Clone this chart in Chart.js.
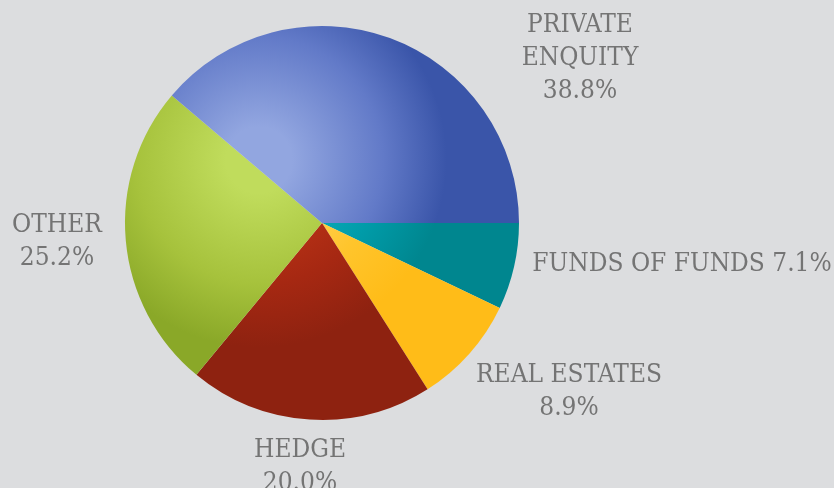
<!DOCTYPE html>
<html lang="en">

<head>
	<meta charset="UTF-8">
	<title>Portfolio split</title>
	<script src="https://cdn.jsdelivr.net/npm/chart.js"></script>
	<style>
	html, body { margin: 0; padding: 0; background: #dcdddf; }
	#wrap { width: 834px; height: 488px; position: relative; }
	</style>
</head>

<body>
	<div id="wrap">
		<canvas id="pieChart" width="834" height="488"></canvas>
	</div>
	<script>
	// data, clockwise from 3 o'clock
	const categories = ['FUNDS OF FUNDS', 'REAL ESTATES', 'HEDGE', 'OTHER', 'PRIVATE ENQUITY'];
	const shares = [7.1, 8.9, 20.0, 25.2, 38.8];
	// how each label is broken into lines
	const labelLines = [
		['FUNDS OF FUNDS 7.1%'],
		['REAL ESTATES', '8.9%'],
		['HEDGE', '20.0%'],
		['OTHER', '25.2%'],
		['PRIVATE', 'ENQUITY', '38.8%']
	];

	// light / mid / dark shade for each slice
	const shades = [
		['#14b6c6', '#009ca9', '#00868f'],
		['#ffd86c', '#ffc52c', '#ffbc18'],
		['#c43818', '#a62812', '#8e2210'],
		['#c0dc5c', '#a6c23c', '#8aa828'],
		['#92a6e0', '#627ac8', '#3a55a9']
	];

	// label anchors: centre x, first baseline y
	const labelAnchors = [
		[682, 271],
		[569, 382],
		[300, 457],
		[57, 232],
		[580, 32]
	];

	function sliceFill(context) {
		const chart = context.chart;
		const area = chart.chartArea;
		const s = shades[context.dataIndex];
		if(!area) return s[1];
		const cx = (area.left + area.right) / 2;
		const cy = (area.top + area.bottom) / 2;
		const r = Math.min(area.width, area.height) / 2;
		const gx = cx - 0.32 * r;
		const gy = cy - 0.32 * r;
		const g = chart.ctx.createRadialGradient(gx, gy, 0, gx, gy, 1.4 * r);
		g.addColorStop(0, s[0]);
		g.addColorStop(0.12, s[0]);
		g.addColorStop(0.45, s[1]);
		g.addColorStop(0.68, s[2]);
		g.addColorStop(1, s[2]);
		return g;
	}

	const sliceLabels = {
		id: 'sliceLabels',
		afterDraw(chart) {
			const ctx = chart.ctx;
			ctx.save();
			ctx.font = "26px 'DejaVu Serif Condensed', 'DejaVu Serif', serif";
			ctx.fillStyle = '#747474';
			ctx.textAlign = 'center';
			ctx.textBaseline = 'alphabetic';
			labelLines.forEach((lines, i) => {
				const [x, y] = labelAnchors[i];
				lines.forEach((t, j) => ctx.fillText(t, x, y + j * 33));
			});
			ctx.restore();
		}
	};

	new Chart(document.getElementById('pieChart'), {
		type: 'pie',
		data: {
			labels: categories,
			datasets: [{
				data: shares,
				backgroundColor: sliceFill,
				borderWidth: 0
			}]
		},
		options: {
			responsive: false,
			animation: false,
			rotation: 90,
			layout: {
				padding: { left: 125, top: 26, right: 315, bottom: 68 }
			},
			plugins: {
				legend: { display: false },
				tooltip: { enabled: false }
			}
		},
		plugins: [sliceLabels]
	});
	</script>
</body>

</html>
